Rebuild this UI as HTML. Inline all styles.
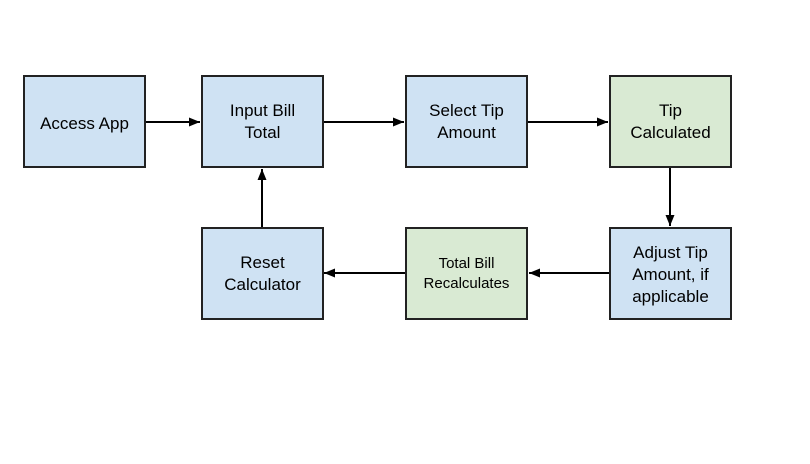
<!DOCTYPE html>
<html><head><style>
body{margin:0;background:#fff;width:810px;height:464px;overflow:hidden;position:relative;font-family:"Liberation Sans",Arial,sans-serif}
.b{position:absolute;box-sizing:border-box;border:2px solid #222;display:flex;align-items:center;justify-content:center;text-align:center;font-size:17px;line-height:22px;color:#000}
.bl{background:#cfe2f3}.g{background:#d9ead3}
svg{position:absolute;left:0;top:0}
</style></head><body>
<svg width="810" height="464">
<defs><marker id="a" markerWidth="11" markerHeight="9" refX="11" refY="4.5" orient="auto" markerUnits="userSpaceOnUse"><path d="M0,0 L11,4.5 L0,9z" fill="#000"/></marker></defs>
<g stroke="#000" stroke-width="2">
<line x1="145" y1="122" x2="200" y2="122" marker-end="url(#a)"/>
<line x1="323" y1="122" x2="404" y2="122" marker-end="url(#a)"/>
<line x1="528" y1="122" x2="608" y2="122" marker-end="url(#a)"/>
<line x1="670" y1="168" x2="670" y2="226" marker-end="url(#a)"/>
<line x1="609" y1="273" x2="529" y2="273" marker-end="url(#a)"/>
<line x1="405" y1="273" x2="324" y2="273" marker-end="url(#a)"/>
<line x1="262" y1="227" x2="262" y2="169" marker-end="url(#a)"/>
</g></svg>
<div class="b bl" style="left:23px;top:75px;width:123px;height:93px;padding-top:4px">Access App</div>
<div class="b bl" style="left:201px;top:75px;width:123px;height:93px">Input Bill<br>Total</div>
<div class="b bl" style="left:405px;top:75px;width:123px;height:93px">Select Tip<br>Amount</div>
<div class="b g" style="left:609px;top:75px;width:123px;height:93px">Tip<br>Calculated</div>
<div class="b bl" style="left:201px;top:227px;width:123px;height:93px">Reset<br>Calculator</div>
<div class="b g" style="left:405px;top:227px;width:123px;height:93px;font-size:15px;line-height:20px">Total Bill<br>Recalculates</div>
<div class="b bl" style="left:609px;top:227px;width:123px;height:93px;padding-top:2px">Adjust Tip<br>Amount, if<br>applicable</div>
</body></html>
